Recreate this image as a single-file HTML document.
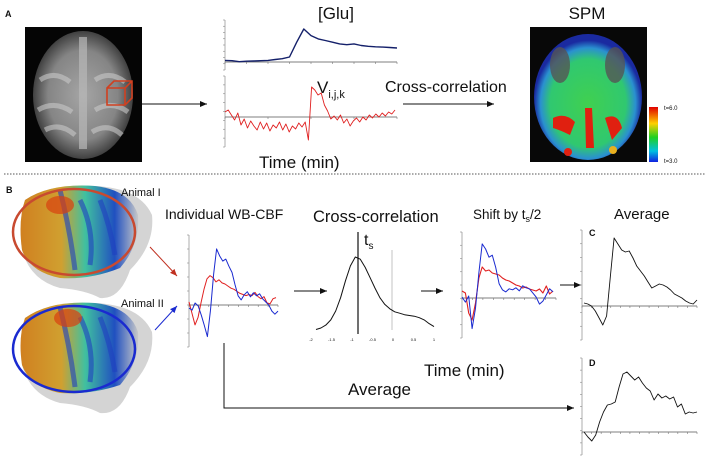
<!DOCTYPE html>
<html><head><meta charset="utf-8"><style>
html,body{margin:0;padding:0;background:#fff;width:708px;height:457px;overflow:hidden}
svg{display:block}
text{font-family:"Liberation Sans",sans-serif;fill:#111}
</style></head><body>
<svg id="fig" width="708" height="457" viewBox="0 0 708 457">
<defs>
<radialGradient id="grayBrain" cx="50%" cy="50%" r="50%">
<stop offset="0" stop-color="#a5a5a5"/><stop offset="0.7" stop-color="#858585"/><stop offset="1" stop-color="#404040"/></radialGradient>
<radialGradient id="spmGrad" cx="50%" cy="55%" r="50%">
<stop offset="0" stop-color="#40d050"/><stop offset="0.7" stop-color="#30c870"/><stop offset="0.88" stop-color="#2a90d0"/><stop offset="1" stop-color="#1a2aa0"/></radialGradient>
<linearGradient id="cbar" x1="0" y1="0" x2="0" y2="1">
<stop offset="0" stop-color="#e00000"/><stop offset="0.3" stop-color="#ffd000"/><stop offset="0.55" stop-color="#20d020"/><stop offset="0.8" stop-color="#00c0e0"/><stop offset="1" stop-color="#1020e0"/></linearGradient>
<linearGradient id="brainCol" x1="0" y1="0" x2="1" y2="0">
<stop offset="0" stop-color="#d08020"/><stop offset="0.35" stop-color="#d0a030"/><stop offset="0.55" stop-color="#40c0a0"/><stop offset="0.8" stop-color="#2050c0"/><stop offset="1" stop-color="#c8c8c8"/></linearGradient>
<marker id="ah" markerWidth="8" markerHeight="8" refX="7" refY="4" orient="auto"><path d="M0,1 L7,4 L0,7 z" fill="#111"/></marker>
<marker id="ahr" markerWidth="8" markerHeight="8" refX="7" refY="4" orient="auto"><path d="M0,1 L7,4 L0,7 z" fill="#c03020"/></marker>
<marker id="ahb" markerWidth="8" markerHeight="8" refX="7" refY="4" orient="auto"><path d="M0,1 L7,4 L0,7 z" fill="#1a2ad0"/></marker>
</defs>

<text x="5" y="17" font-size="9" font-weight="bold">A</text>
<g>
<rect x="25" y="27" width="117" height="135" fill="#050505"/>
<ellipse cx="83" cy="95" rx="50" ry="64" fill="url(#grayBrain)"/>
<rect x="79" y="37" width="8" height="112" fill="#b8b8b8" opacity="0.7"/>
<path d="M40,80 Q55,70 70,82 M38,110 Q55,100 72,112 M95,80 Q110,70 125,82 M95,110 Q112,100 128,112 M45,130 Q60,122 75,135 M92,132 Q108,122 122,135" stroke="#c8c8c8" stroke-width="5" fill="none" opacity="0.6"/>
<path d="M107,88 L114,81 L132,81 L132,98 L125,105 L107,105 Z M107,88 L125,88 L125,105 M125,88 L132,81" stroke="#d04020" stroke-width="1.6" fill="none"/>
</g>
<line x1="142" y1="104" x2="207" y2="104" stroke="#111" stroke-width="1" marker-end="url(#ah)"/>
<text x="336" y="19" font-size="17" text-anchor="middle">[Glu]</text>
<g id="gluPlot"></g>
<g id="vPlot"></g>
<text x="317" y="93" font-size="17">V<tspan font-size="11" dy="5">i,j,k</tspan></text>
<text x="385" y="92" font-size="16">Cross-correlation</text>
<line x1="403" y1="104" x2="494" y2="104" stroke="#111" stroke-width="1" marker-end="url(#ah)"/>
<text x="259" y="168" font-size="17">Time (min)</text>
<text x="587" y="19" font-size="17" text-anchor="middle">SPM</text>
<g>
<rect x="530" y="27" width="117" height="135" fill="#080808"/>
<ellipse cx="588" cy="97" rx="54" ry="63" fill="url(#spmGrad)"/>
<ellipse cx="560" cy="65" rx="10" ry="18" fill="#555" opacity="0.8"/>
<ellipse cx="615" cy="65" rx="10" ry="18" fill="#555" opacity="0.8"/>
<path d="M553,118 Q565,112 575,122 L570,135 Q560,130 553,128Z M585,108 L592,108 L594,148 L586,148Z M605,118 Q618,112 622,128 L612,140Z" fill="#e02010"/>
<circle cx="568" cy="152" r="4" fill="#e02010"/><circle cx="613" cy="150" r="4" fill="#e8b020"/>
</g>
<rect x="649" y="107" width="9" height="55" fill="url(#cbar)"/>
<text x="664" y="110" font-size="6">t=6.0</text>
<text x="664" y="163" font-size="6">t=3.0</text>
<line x1="4" y1="174" x2="706" y2="174" stroke="#555" stroke-width="1" stroke-dasharray="1.5,1.5"/>

<text x="6" y="193" font-size="9" font-weight="bold">B</text>
<g>
<path d="M25,200 Q50,183 95,186 Q140,188 152,215 Q155,245 130,270 Q120,300 100,298 Q85,290 60,288 Q30,280 22,250 Q18,220 25,200Z" fill="#d4d4d4"/>
<path d="M25,200 Q50,183 95,186 Q130,190 138,215 Q140,245 120,268 Q90,280 60,278 Q30,272 22,250 Q18,220 25,200Z" fill="url(#brainCol)"/>
<path d="M60,190 Q70,230 75,270 M80,200 Q95,230 90,265 M100,200 Q110,225 115,255" stroke="#2040c0" stroke-width="5" fill="none" opacity="0.6"/>
<ellipse cx="60" cy="205" rx="14" ry="9" fill="#d84010" opacity="0.7"/>
<ellipse cx="74" cy="232" rx="61" ry="43" fill="none" stroke="#c84a30" stroke-width="2.5"/>
</g>
<g>
<path d="M25,318 Q50,300 95,303 Q140,305 152,332 Q155,362 130,387 Q120,415 100,413 Q85,405 60,403 Q30,395 22,365 Q18,337 25,318Z" fill="#d4d4d4"/>
<path d="M25,318 Q50,300 95,303 Q130,307 138,332 Q140,362 120,385 Q90,395 60,393 Q30,387 22,365 Q18,337 25,318Z" fill="url(#brainCol)"/>
<path d="M60,307 Q70,347 75,387 M80,317 Q95,347 90,382 M100,317 Q110,342 115,372" stroke="#2040c0" stroke-width="5" fill="none" opacity="0.6"/>
<ellipse cx="68" cy="318" rx="14" ry="9" fill="#d84010" opacity="0.7"/>
<ellipse cx="74" cy="349" rx="61" ry="43" fill="none" stroke="#1a2ad0" stroke-width="2.5"/>
</g>
<text x="121" y="196" font-size="11">Animal I</text>
<text x="121" y="307" font-size="11">Animal II</text>
<line x1="150" y1="247" x2="177" y2="276" stroke="#c03020" stroke-width="1" marker-end="url(#ahr)"/>
<line x1="155" y1="330" x2="177" y2="306" stroke="#1a2ad0" stroke-width="1" marker-end="url(#ahb)"/>
<text x="165" y="219" font-size="14">Individual WB-CBF</text>
<g id="cbfPlot"></g>
<line x1="294" y1="291" x2="327" y2="291" stroke="#111" stroke-width="1" marker-end="url(#ah)"/>
<text x="313" y="222" font-size="16.5">Cross-correlation</text>
<g id="ccPlot"></g>
<text x="364" y="245" font-size="16">t<tspan font-size="10" dy="4">s</tspan></text>
<line x1="421" y1="291" x2="443" y2="291" stroke="#111" stroke-width="1" marker-end="url(#ah)"/>
<text x="473" y="219" font-size="13.5">Shift by t<tspan font-size="9" dy="3">s</tspan><tspan dy="-3">/2</tspan></text>
<g id="shiftPlot"></g>
<line x1="560" y1="285" x2="581" y2="285" stroke="#111" stroke-width="1" marker-end="url(#ah)"/>
<text x="614" y="219" font-size="15">Average</text>
<g id="cPlot"></g>
<text x="589" y="236" font-size="9" font-weight="bold">C</text>
<g id="dPlot"></g>
<text x="589" y="366" font-size="9" font-weight="bold">D</text>
<text x="424" y="376" font-size="17">Time (min)</text>
<text x="348" y="395" font-size="17">Average</text>
<polyline points="224,343 224,408 574,408" fill="none" stroke="#111" stroke-width="1" marker-end="url(#ah)"/>
</svg>
<script>
const gluVals=[1,0.8,0.2,0.5,0.6,0.8,1,1.5,2,3,12,20,16,14,13,12,11,10.5,11,10,9.5,9.2,9,8.8,8.5];
const vVals=[0.5,0.7,0.2,-0.3,0.4,-0.8,-0.2,-1.1,-0.4,-0.9,-1.3,-0.5,-1.2,-0.6,-1.4,-0.8,-1.1,-0.5,-1.3,-0.7,-1.5,-0.9,-1.2,-0.6,-1.0,-0.5,-2.3,3.0,2.7,2.2,2.4,1.2,0.6,-0.2,0.1,-0.3,0.2,-0.6,-0.2,-0.9,-0.4,-0.1,-0.5,0.0,-0.3,0.2,-0.1,0.3,0.0,0.4,0.1,0.5,0.3,0.7];
const cbfBlue=[-0.3,-0.5,0.2,-0.1,-1.0,-2.0,-3.1,-0.5,3.0,5.5,4.8,4.3,4.5,3.8,3.2,2.0,0.9,0.5,1.0,1.3,0.8,1.2,0.9,1.1,0.6,0.3,0.0,-0.6,-0.9,-0.6];
const cbfRed=[0.3,-0.8,-1.9,-1.2,0.2,1.5,2.5,2.8,2.6,2.2,2.4,2.1,2.0,1.8,1.6,1.5,1.3,1.1,1.0,0.9,1.0,0.9,1.2,0.8,0.6,0.8,0.2,0.1,0.6,0.7];
const ccVals=[0.02,0.04,0.08,0.15,0.27,0.45,0.68,0.88,1.0,0.97,0.86,0.72,0.58,0.45,0.36,0.3,0.26,0.24,0.22,0.21,0.2,0.18,0.15,0.1,0.06];
const shiftBlue=[0.1,-0.4,0.2,-3.0,-1.0,2.5,5.3,4.8,4.0,4.2,3.0,1.4,0.8,0.6,0.9,0.8,1.0,0.7,1.2,1.0,0.9,0.5,0.1,-0.6,-0.3,0.3,0.9,0.6];
const shiftRed=[0.7,0.5,-1.5,-2.2,-0.5,2.0,3.1,2.7,2.8,2.5,2.4,2.3,2.0,1.8,1.7,1.5,1.3,1.2,1.0,1.1,0.9,0.8,0.7,0.9,0.5,1.2,0.4,0.7];
const cVals=[0.3,0.2,0.0,-0.5,-1.2,-1.9,-1.0,3.0,6.8,6.2,5.6,5.4,5.5,4.8,4.0,3.5,3.0,2.4,1.8,2.0,2.2,2.1,1.9,1.6,1.2,1.0,0.8,0.5,0.3,0.2,0.6];
const dVals=[0.0,-0.5,-0.9,-0.3,1.0,2.0,2.7,2.8,3.0,4.5,5.8,6.0,5.6,5.2,5.5,4.9,4.4,4.1,3.2,3.8,3.4,3.6,3.3,3.5,2.5,2.8,1.8,2.0,1.9,2.0];
const ccTicks=["-2","-1.5","-1","-0.5","0","0.5","1"];

const NS="http://www.w3.org/2000/svg";
function mk(tag,attrs,parent){const e=document.createElementNS(NS,tag);for(const k in attrs)e.setAttribute(k,attrs[k]);parent.appendChild(e);return e;}
function axes(g,ax,yTop,yBot,x0,x1,yBase,nTicks){
  const a=mk('line',{x1:ax,y1:yTop,x2:ax,y2:yBot,stroke:'#999','stroke-width':0.8},g);
  
  
  const b=mk('line',{x1:x0,y1:yBase,x2:x1,y2:yBase,stroke:'#555','stroke-width':0.8},g);
  
  
  for(let i=0;i<=nTicks;i++){const x=x0+(x1-x0)*i/nTicks;
    const t=mk('line',{x1:x,y1:yBase,x2:x,y2:yBase+2,stroke:'#777','stroke-width':0.6},g);
    
    }
  for(let y=yTop;y<=yBot;y+=(yBot-yTop)/8){
    const t=mk('line',{x1:ax-2,y1:y,x2:ax,y2:y,stroke:'#888','stroke-width':0.6},g);
    
    }
}
function series(g,vals,x0,x1,yBase,ppu,color,w,name){
  const xs=i=>x0+(x1-x0)*i/(vals.length-1);
  const ys=v=>yBase-v*ppu;
  const pts=vals.map((v,i)=>xs(i).toFixed(1)+','+ys(v).toFixed(1)).join(' ');
  const p=mk('polyline',{points:pts,fill:'none',stroke:color,'stroke-width':w,'stroke-linejoin':'round'},g);
  
  
}
const $=id=>document.getElementById(id);
axes($('gluPlot'),225,20,70,225,397,62,8);
series($('gluPlot'),gluVals,225,397,62,1.65,'#14206a',1.4,'glu-line');
axes($('vPlot'),225,76,147,225,397,117,4);
series($('vPlot'),vVals,225,395,117,10,'#e02020',0.9,'voxel-line');
axes($('cbfPlot'),189,235,347,189,278,305,9);
series($('cbfPlot'),cbfRed,189,276,305,10.5,'#e02020',1,'cbf-red-line');
series($('cbfPlot'),cbfBlue,189,278,305,10.2,'#1a2ad0',1,'cbf-blue-line');
(function(){const g=$('ccPlot');
  const ax=mk('line',{x1:392,y1:250,x2:392,y2:330,stroke:'#aaa','stroke-width':0.7},g);
  
  
  ccTicks.forEach((t,i)=>{const x=311+(434-311)*i/(ccTicks.length-1);
    const tx=mk('text',{x:x,y:341,'font-size':4,'text-anchor':'middle',fill:'#666'},g);tx.textContent=t;
    
    });
  series(g,ccVals,316,434,331,74,'#111',1,'cc-curve');
  const v=mk('line',{x1:358,y1:232,x2:358,y2:334,stroke:'#111','stroke-width':1.2},g);
  
  
})();
axes($('shiftPlot'),462,232,338,462,556,298,9);
series($('shiftPlot'),shiftRed,462,553,298,10,'#e02020',1.1,'shift-red-line');
series($('shiftPlot'),shiftBlue,462,553,298,10.2,'#1a2ad0',1,'shift-blue-line');
axes($('cPlot'),582,230,340,582,697,306,12);
series($('cPlot'),cVals,584,697,306,10,'#111',0.9,'average-c-line');
axes($('dPlot'),582,358,455,582,697,432,12);
series($('dPlot'),dVals,584,697,432,10,'#111',0.9,'average-d-line');
</script>
</body></html>
